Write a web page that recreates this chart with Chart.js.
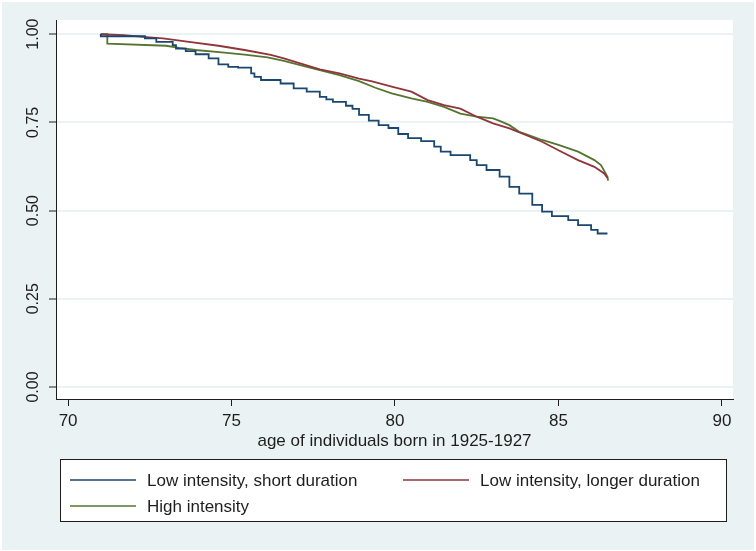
<!DOCTYPE html>
<html>
<head>
<meta charset="utf-8">
<script src="https://cdn.jsdelivr.net/npm/chart.js@4.4.1/dist/chart.umd.min.js"></script>
<style>
  body { margin: 0; background: #fff; }
  canvas { display: block; }
</style>
</head>
<body>
<canvas id="km" width="756" height="551"></canvas>
<script>
// survival curves (age, share surviving)
const seriesNames = ['Low intensity, short duration', 'Low intensity, longer duration', 'High intensity']
const seriesColors = ['#1a476f', '#90353b', '#55752f']

const blueAge  = [71.0, 72.35, 72.7, 73.2, 73.3, 73.6, 73.9, 74.3, 74.6, 74.9, 75.2, 75.6, 75.7, 75.9, 76.5, 76.9, 77.3, 77.7, 77.9, 78.1, 78.5, 78.7, 78.9, 79.2, 79.5, 79.8, 80.1, 80.4, 80.8, 81.2, 81.4, 81.7, 82.3, 82.5, 82.8, 83.2, 83.5, 83.8, 84.2, 84.5, 84.8, 85.3, 85.6, 86.0, 86.2, 86.5]
const blueSurv = [1.000, 0.994, 0.988, 0.978, 0.969, 0.959, 0.952, 0.943, 0.931, 0.914, 0.907, 0.905, 0.889, 0.879, 0.870, 0.860, 0.846, 0.837, 0.822, 0.815, 0.808, 0.797, 0.788, 0.771, 0.755, 0.742, 0.734, 0.717, 0.705, 0.697, 0.681, 0.667, 0.657, 0.643, 0.629, 0.615, 0.596, 0.567, 0.548, 0.516, 0.497, 0.484, 0.473, 0.459, 0.445, 0.435]

const redAge  = [71.0, 71.7, 72.3, 72.9, 73.7, 74.6, 75.4, 76.2, 76.6, 77.1, 77.7, 78.3, 78.9, 79.3, 79.9, 80.5, 81.0, 81.5, 82.0, 82.5, 83.0, 83.5, 84.0, 84.5, 85.0, 85.6, 86.1, 86.4, 86.5]
const redSurv = [1.000, 0.997, 0.992, 0.988, 0.978, 0.967, 0.955, 0.941, 0.931, 0.917, 0.900, 0.889, 0.874, 0.866, 0.851, 0.837, 0.813, 0.799, 0.789, 0.766, 0.747, 0.733, 0.714, 0.695, 0.671, 0.643, 0.624, 0.605, 0.592]

const greenAge  = [71.0, 71.2, 71.2, 73.0, 73.4, 73.9, 74.7, 75.4, 76.1, 76.6, 77.1, 77.7, 78.3, 78.9, 79.4, 79.9, 80.5, 81.0, 81.5, 82.0, 82.5, 83.0, 83.2, 83.5, 83.8, 84.0, 84.5, 85.0, 85.6, 86.1, 86.3, 86.5, 86.52]
const greenSurv = [1.000, 1.000, 0.973, 0.967, 0.961, 0.955, 0.948, 0.942, 0.934, 0.924, 0.912, 0.898, 0.884, 0.867, 0.848, 0.832, 0.818, 0.808, 0.794, 0.775, 0.766, 0.761, 0.754, 0.742, 0.723, 0.717, 0.700, 0.686, 0.667, 0.643, 0.629, 0.596, 0.585]

const xTicks = [70, 75, 80, 85, 90]
const yTicks = [0, 0.25, 0.5, 0.75, 1]

function pontos(ages, surv) {
  return ages.map((a, i) => ({ x: a, y: surv[i] }))
}

const FONT = '"Liberation Sans", Arial, Helvetica, sans-serif'
const BG = '#eaf2f3'
const DARK = '#1e1e1e'

const stataPlugin = {
  id: 'stata',
  beforeDraw(chart) {
    const { ctx, chartArea: a, width, height } = chart
    ctx.save()
    ctx.fillStyle = '#fff'
    ctx.fillRect(0, 0, width, height)
    ctx.fillStyle = BG
    ctx.fillRect(2, 2, width - 4, height - 3)
    ctx.fillStyle = '#fff'
    ctx.fillRect(a.left, a.top, a.right - a.left, a.bottom - a.top)
    ctx.restore()
  },
  afterDraw(chart) {
    const ctx = chart.ctx
    const ys = chart.scales.y
    ctx.save()
    // y tick labels, rotated like Stata
    ctx.fillStyle = DARK
    ctx.font = '16px ' + FONT
    ctx.textAlign = 'center'
    ctx.textBaseline = 'middle'
    yTicks.forEach(v => {
      const py = ys.getPixelForValue(v)
      ctx.save()
      ctx.translate(34, py)
      ctx.rotate(-Math.PI / 2)
      ctx.fillText(v.toFixed(2), 0, 0)
      ctx.restore()
    })

    // legend box
    const box = { x: 60.5, y: 459.5, w: 666, h: 62 }
    ctx.fillStyle = '#fff'
    ctx.fillRect(box.x, box.y, box.w, box.h)
    ctx.strokeStyle = DARK
    ctx.lineWidth = 1
    ctx.strokeRect(box.x, box.y, box.w, box.h)

    const slots = [
      { lx: 70, ly: 480 },
      { lx: 403, ly: 480 },
      { lx: 70, ly: 506 }
    ]
    ctx.font = '17px ' + FONT
    chart.data.datasets.forEach((ds, i) => {
      const s = slots[i]
      ctx.strokeStyle = ds.borderColor
      ctx.lineWidth = 1.4
      ctx.beginPath()
      ctx.moveTo(s.lx, s.ly)
      ctx.lineTo(s.lx + 66, s.ly)
      ctx.stroke()
      ctx.fillStyle = DARK
      ctx.textAlign = 'left'
      ctx.textBaseline = 'middle'
      ctx.fillText(ds.label, s.lx + 77, s.ly + 1)
    })
    ctx.restore()
  }
}

const ctx = document.getElementById('km')

const data = {
  datasets: [
    {
      label: seriesNames[0],
      data: pontos(blueAge, blueSurv),
      borderColor: seriesColors[0],
      borderWidth: 1.8,
      pointRadius: 0,
      stepped: 'after'
    },
    {
      label: seriesNames[1],
      data: pontos(redAge, redSurv),
      borderColor: seriesColors[1],
      borderWidth: 1.8,
      pointRadius: 0
    },
    {
      label: seriesNames[2],
      data: pontos(greenAge, greenSurv),
      borderColor: seriesColors[2],
      borderWidth: 1.8,
      pointRadius: 0
    }
  ]
}

const config = {
  type: 'line',
  data: data,
  options: {
    responsive: false,
    animation: false,
    layout: { padding: { top: 20, right: 23, bottom: 97, left: 0 } },
    plugins: {
      legend: { display: false },
      tooltip: { enabled: false }
    },
    scales: {
      x: {
        type: 'linear',
        min: 69.63,
        max: 90.34,
        afterBuildTicks: s => { s.ticks = xTicks.map(v => ({ value: v })) },
        afterFit: s => { s.height = 55 },
        grid: { drawOnChartArea: false, tickLength: 7, tickColor: DARK, tickWidth: 1 },
        border: { display: true, color: DARK, width: 1 },
        ticks: { color: DARK, font: { size: 17, family: FONT }, padding: 5, maxRotation: 0 },
        title: {
          display: true,
          text: 'age of individuals born in 1925-1927',
          color: DARK,
          font: { size: 17, family: FONT },
          padding: { top: 0, bottom: 2 }
        }
      },
      y: {
        type: 'linear',
        min: -0.034,
        max: 1.04,
        afterBuildTicks: s => { s.ticks = yTicks.map(v => ({ value: v })) },
        afterFit: s => { s.width = 56 },
        grid: { color: BG, lineWidth: 2, tickLength: 7, tickColor: DARK, tickWidth: 1 },
        border: { display: true, color: DARK, width: 1 },
        ticks: { display: false }
      }
    }
  },
  plugins: [stataPlugin]
}

const myChart = new Chart(ctx, config)
</script>
</body>
</html>
